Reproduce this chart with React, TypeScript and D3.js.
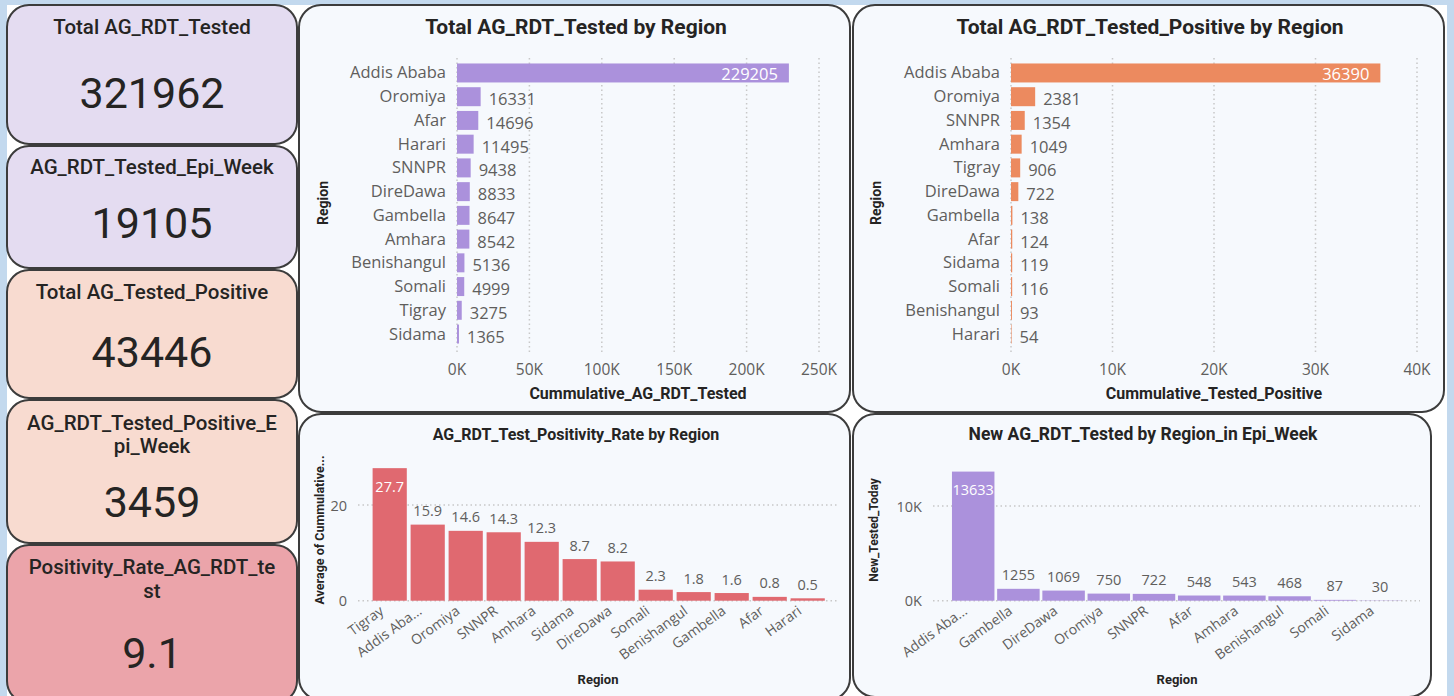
import React, { useRef, useEffect } from 'react';
import * as d3 from 'd3';

// ---- data ----
const testedRegions = ['Addis Ababa', 'Oromiya', 'Afar', 'Harari', 'SNNPR', 'DireDawa', 'Gambella', 'Amhara', 'Benishangul', 'Somali', 'Tigray', 'Sidama'];
const testedValues = [229205, 16331, 14696, 11495, 9438, 8833, 8647, 8542, 5136, 4999, 3275, 1365];

const positiveRegions = ['Addis Ababa', 'Oromiya', 'SNNPR', 'Amhara', 'Tigray', 'DireDawa', 'Gambella', 'Afar', 'Sidama', 'Somali', 'Benishangul', 'Harari'];
const positiveValues = [36390, 2381, 1354, 1049, 906, 722, 138, 124, 119, 116, 93, 54];

const rateRegions = ['Tigray', 'Addis Ababa', 'Oromiya', 'SNNPR', 'Amhara', 'Sidama', 'DireDawa', 'Somali', 'Benishangul', 'Gambella', 'Afar', 'Harari'];
const rateValues = [27.7, 15.9, 14.6, 14.3, 12.3, 8.7, 8.2, 2.3, 1.8, 1.6, 0.8, 0.5];

const weekRegions = ['Addis Ababa', 'Gambella', 'DireDawa', 'Oromiya', 'SNNPR', 'Afar', 'Amhara', 'Benishangul', 'Somali', 'Sidama'];
const weekValues = [13633, 1255, 1069, 750, 722, 548, 543, 468, 87, 30];

const kpiTitles = [['Total AG_RDT_Tested'], ['AG_RDT_Tested_Epi_Week'], ['Total AG_Tested_Positive'], ['AG_RDT_Tested_Positive_E', 'pi_Week'], ['Positivity_Rate_AG_RDT_te', 'st']];
const kpiValues = ['321962', '19105', '43446', '3459', '9.1'];

const W = 1454;
const H = 696;
const TITLE_FONT = 'Roboto, "DejaVu Sans", sans-serif';
const LABEL_FONT = '"Open Sans", "Noto Sans", sans-serif';
const DARK = '#252423';
const GRAY = '#605e5c';

const shortName = (s: string) => (s === 'Addis Ababa' ? 'Addis Aba...' : s);

const App = () => {
    const svgRef = useRef<SVGSVGElement>(null);

    useEffect(() => {
        const svg = d3.select(svgRef.current);
        svg.selectAll('*').remove();

        // page canvas with the light blue frame
        svg.append('rect').attr('width', W).attr('height', H).attr('fill', '#c3d9ee');
        svg.append('rect').attr('x', 7).attr('y', 5).attr('width', 1440).attr('height', 700).attr('fill', '#ffffff');

        const panel = (x: number, y: number, w: number, h: number, fill: string) => {
            svg.append('rect')
                .attr('x', x).attr('y', y).attr('width', w).attr('height', h)
                .attr('rx', 22).attr('ry', 22)
                .attr('fill', fill)
                .attr('stroke', '#3c3c3c')
                .attr('stroke-width', 2);
        };

        const text = (g: any, x: number, y: number, str: string, size: number, opts: any = {}) => {
            const t = g.append('text')
                .attr('x', x).attr('y', y)
                .attr('text-anchor', opts.anchor || 'middle')
                .attr('dominant-baseline', opts.baseline || 'central')
                .attr('font-family', opts.font || TITLE_FONT)
                .attr('font-size', size)
                .attr('font-weight', opts.weight || 'normal')
                .attr('fill', opts.fill || DARK)
                .text(str);
            if (opts.rotate) t.attr('transform', `rotate(${opts.rotate},${x},${y})`);
            return t;
        };

        // ---- KPI cards ----
        const cards = [
            { y: 5, h: 139, fill: '#e4dcf1', titleY: [27], valueY: 93 },
            { y: 146, h: 122, fill: '#e4dcf1', titleY: [167], valueY: 223 },
            { y: 270, h: 128, fill: '#f8dbd0', titleY: [292], valueY: 352 },
            { y: 400, h: 143, fill: '#f8dbd0', titleY: [423, 446], valueY: 502 },
            { y: 545, h: 158, fill: '#eba4aa', titleY: [567, 591], valueY: 653 },
        ];
        cards.forEach((c, i) => {
            panel(7, c.y, 290, c.h, c.fill);
            kpiTitles[i].forEach((line, j) => text(svg, 152, c.titleY[j], line, 20.5, { weight: 500 }));
            text(svg, 152, c.valueY, kpiValues[i], 43, { weight: 400 });
        });

        // ---- chart panels ----
        panel(299, 5, 551, 407, '#f6f9fd');
        panel(853, 5, 591, 407, '#f6f9fd');
        panel(299, 414, 551, 286, '#f6f9fd');
        panel(853, 414, 578, 283, '#f6f9fd');

        // horizontal bar chart (top row)
        const hbar = (cfg: any) => {
            const g = svg.append('g');
            const x = d3.scaleLinear().domain([0, cfg.max]).range([cfg.x0, cfg.x1]);
            const y = d3.scaleBand<string>().domain(cfg.regions).range([61.1, 345.9]).paddingInner(0.2).paddingOuter(0.1);
            const ticks = d3.range(0, cfg.max + 1, cfg.step);

            g.selectAll('line.grid').data(ticks).enter().append('line')
                .attr('x1', (d: number) => x(d)).attr('x2', (d: number) => x(d))
                .attr('y1', 58).attr('y2', 353)
                .attr('stroke', '#c8c8c8').attr('stroke-width', 1.5)
                .attr('stroke-dasharray', '1.5,3');

            ticks.forEach((t: number) => text(g, x(t), 369, `${t / 1000}K`, 15.5, { font: LABEL_FONT, fill: GRAY }));

            g.selectAll('rect.bar').data(cfg.values).enter().append('rect')
                .attr('x', x(0))
                .attr('y', (_d: number, i: number) => y(cfg.regions[i]))
                .attr('width', (d: number) => x(d) - x(0))
                .attr('height', y.bandwidth())
                .attr('fill', cfg.color);

            const top = d3.max(cfg.values as number[]);
            cfg.regions.forEach((r: string, i: number) => {
                const cy = (y(r) as number) + y.bandwidth() / 2;
                text(g, cfg.x0 - 11, cy - 1, r, 16.5, { anchor: 'end', font: LABEL_FONT, fill: GRAY });
                const v = cfg.values[i];
                if (v === top) {
                    text(g, x(v) - 11, cy + 1, String(v), 16.5, { anchor: 'end', font: LABEL_FONT, fill: '#ffffff' });
                } else {
                    text(g, x(v) + 8, cy + 2, String(v), 16.5, { anchor: 'start', font: LABEL_FONT, fill: GRAY });
                }
            });

            text(g, cfg.titleX, 27, cfg.title, 21, { weight: 'bold' });
            text(g, cfg.xTitleX, 393, cfg.xTitle, 16, { weight: 'bold' });
            text(g, cfg.yTitleX, 203, 'Region', 14, { weight: 'bold', rotate: -90 });
        };

        hbar({
            regions: testedRegions, values: testedValues, max: 250000, step: 50000,
            x0: 457, x1: 819, color: '#ab91dc',
            title: 'Total AG_RDT_Tested by Region', titleX: 576,
            xTitle: 'Cummulative_AG_RDT_Tested', xTitleX: 638, yTitleX: 323,
        });
        hbar({
            regions: positiveRegions, values: positiveValues, max: 40000, step: 10000,
            x0: 1011, x1: 1417, color: '#ec8a5f',
            title: 'Total AG_RDT_Tested_Positive by Region', titleX: 1150,
            xTitle: 'Cummulative_Tested_Positive', xTitleX: 1214, yTitleX: 876,
        });

        // vertical bar chart (bottom row)
        const vbar = (cfg: any) => {
            const g = svg.append('g');
            const x = d3.scaleBand<string>().domain(cfg.regions).range(cfg.xr).paddingInner(cfg.pi).paddingOuter(cfg.po);
            const y = d3.scaleLinear().domain([0, cfg.max]).range([600.7, cfg.yTop]);

            g.selectAll('line.grid').data(cfg.ticks).enter().append('line')
                .attr('x1', cfg.gx0).attr('x2', cfg.gx1)
                .attr('y1', (d: number) => y(d)).attr('y2', (d: number) => y(d))
                .attr('stroke', '#c8c8c8').attr('stroke-width', 1.5)
                .attr('stroke-dasharray', '1.5,3');
            cfg.ticks.forEach((t: number) => text(g, cfg.tickX, y(t), cfg.fmt(t), 14.5, { anchor: 'end', font: LABEL_FONT, fill: GRAY }));

            g.selectAll('rect.bar').data(cfg.values).enter().append('rect')
                .attr('x', (_d: number, i: number) => x(cfg.regions[i]))
                .attr('y', (d: number) => y(d))
                .attr('width', x.bandwidth())
                .attr('height', (d: number) => y(0) - y(d))
                .attr('fill', cfg.color);

            const top = d3.max(cfg.values as number[]);
            cfg.regions.forEach((r: string, i: number) => {
                const cx = (x(r) as number) + x.bandwidth() / 2;
                const v = cfg.values[i];
                if (v === top) {
                    text(g, cx, y(v) + 18, String(v), 14.5, { font: LABEL_FONT, fill: '#ffffff' });
                } else {
                    text(g, cx, y(v) - 14, String(v), 14.5, { font: LABEL_FONT, fill: GRAY });
                }
                g.append('text')
                    .attr('transform', `translate(${cx - 5},613) rotate(-36)`)
                    .attr('text-anchor', 'end')
                    .attr('font-family', LABEL_FONT)
                    .attr('font-size', 14)
                    .attr('fill', GRAY)
                    .text(shortName(r));
            });

            text(g, cfg.titleX, 434, cfg.title, cfg.titleSize, { weight: 'bold' });
            text(g, cfg.yTitleX, 530, cfg.yTitle, cfg.yTitleSize, { weight: 'bold', rotate: -90 });
            text(g, cfg.xTitleX, 679, 'Region', 13, { weight: 'bold' });
        };

        vbar({
            regions: rateRegions, values: rateValues, max: 30, yTop: 600.7 - 30 * 4.785,
            xr: [370.7, 826.7], pi: 0.1, po: 0.05, color: '#e06970',
            ticks: [0, 20], fmt: (t: number) => String(t), tickX: 347, gx0: 358, gx1: 839,
            title: 'AG_RDT_Test_Positivity_Rate by Region', titleX: 576, titleSize: 16,
            yTitle: 'Average of Cummulative...', yTitleX: 319, yTitleSize: 12.5, xTitleX: 598,
        });
        vbar({
            regions: weekRegions, values: weekValues, max: 15000, yTop: 600.7 - 15 * 9.47,
            xr: [950.6, 1402.6], pi: 0.06, po: 0.03, color: '#ab91dc',
            ticks: [0, 10000], fmt: (t: number) => `${t / 1000}K`, tickX: 922, gx0: 933, gx1: 1420,
            title: 'New AG_RDT_Tested by Region_in Epi_Week', titleX: 1143, titleSize: 17.5,
            yTitle: 'New_Tested_Today', yTitleX: 874, yTitleSize: 12, xTitleX: 1177,
        });
    }, []);

    return (
        <div style={{ position: 'absolute', left: 0, top: 0, width: W, height: H, overflow: 'hidden' }}>
            <svg ref={svgRef} width={W} height={H} style={{ display: 'block' }} />
        </div>
    );
};

export default App;
